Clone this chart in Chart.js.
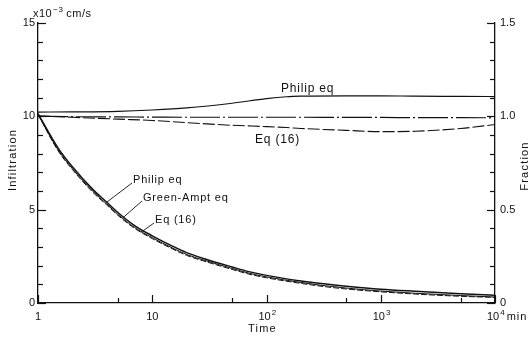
<!DOCTYPE html>
<html>
<head>
<meta charset="utf-8">
<script src="https://cdn.jsdelivr.net/npm/chart.js@4.4.1/dist/chart.umd.min.js"></script>
<style>
  html, body { margin: 0; padding: 0; background: #fff; }
  canvas { display: block; }
</style>
</head>
<body>
<canvas id="chart" width="529" height="337"></canvas>
<script>
// infiltration rate (x10^-3 cm/s) against time (min)
const times = [1, 1.5, 2, 3, 4, 5, 7, 10, 15, 20, 30, 50, 70, 100, 200, 300, 500, 1000, 2000, 5000, 10000];
const philipRate     = [10.15, 8.3, 7.3, 6.1, 5.4, 4.85, 4.15, 3.6, 3.05, 2.7, 2.33, 1.93, 1.68, 1.48, 1.18, 1.04, 0.9, 0.74, 0.63, 0.5, 0.42];
const greenAmptRate  = [10.1, 8.2, 7.2, 6.0, 5.3, 4.75, 4.05, 3.5, 2.95, 2.6, 2.25, 1.85, 1.6, 1.4, 1.1, 0.95, 0.8, 0.64, 0.52, 0.4, 0.32];
const eq16Rate       = [10.1, 8.15, 7.15, 5.95, 5.25, 4.7, 4.0, 3.45, 2.9, 2.55, 2.2, 1.8, 1.55, 1.35, 1.05, 0.9, 0.75, 0.6, 0.48, 0.36, 0.3];

// fractions on the right-hand axis
const ratioTimes = [1, 2, 5, 10, 20, 50, 100, 150, 200, 500, 1000, 2000, 5000, 10000];
const philipRatio    = [1.023, 1.024, 1.027, 1.034, 1.045, 1.07, 1.095, 1.105, 1.108, 1.11, 1.11, 1.108, 1.107, 1.106];
const greenAmptRatio = [1.0, 0.998, 0.997, 0.996, 0.995, 0.995, 0.995, 0.995, 0.995, 0.994, 0.994, 0.993, 0.993, 0.992];
const eq16Ratio      = [1.003, 0.995, 0.985, 0.978, 0.966, 0.952, 0.945, 0.94, 0.935, 0.925, 0.918, 0.92, 0.935, 0.956];

const decadeTicks = [1, 10, 100, 1000, 10000];
const halfDecadeTicks = [5, 50, 500, 5000];

const FONT = '"Liberation Sans", Arial, sans-serif';
const INK = '#111';

function toPoints(xs, ys) {
  return xs.map((x, i) => ({ x: x, y: ys[i] }));
}

// series value at time t, linear in log(t) like the drawn segments
function valueAt(xs, ys, t) {
  for (let i = 1; i < xs.length; i++) {
    if (t <= xs[i]) {
      const f = (Math.log(t) - Math.log(xs[i - 1])) / (Math.log(xs[i]) - Math.log(xs[i - 1]));
      return ys[i - 1] + f * (ys[i] - ys[i - 1]);
    }
  }
  return ys[ys.length - 1];
}

function line(ctx, x1, y1, x2, y2) {
  ctx.beginPath();
  ctx.moveTo(x1, y1);
  ctx.lineTo(x2, y2);
  ctx.stroke();
}

// "10" with a raised exponent, "10" starting at left
function powerLabel(ctx, left, base, exp) {
  ctx.font = `11px ${FONT}`;
  ctx.textAlign = 'left';
  ctx.fillText('10', left, base);
  const w = ctx.measureText('10').width;
  ctx.font = `8px ${FONT}`;
  ctx.fillText(exp, left + w + 1, base - 5);
  return left + w + 1 + ctx.measureText(exp).width;
}

const decorations = {
  id: 'decorations',
  afterDraw(chart) {
    const { ctx, chartArea: a, scales: { x, y, y2 } } = chart;
    ctx.save();
    ctx.strokeStyle = INK;
    ctx.fillStyle = INK;
    ctx.lineWidth = 1.2;

    // tick marks pointing into the plot
    for (let v = 0; v <= 15; v++) {
      const py = Math.round(y.getPixelForValue(v)) + 0.5;
      line(ctx, a.left, py, a.left + (v % 5 === 0 ? 8 : 5), py);
    }
    for (let k = 0; k <= 15; k++) {
      const py = Math.round(y2.getPixelForValue(k / 10)) + 0.5;
      line(ctx, a.right, py, a.right - (k % 5 === 0 ? 8 : 5), py);
    }
    decadeTicks.forEach(t => {
      const px = Math.round(x.getPixelForValue(t)) + 0.5;
      line(ctx, px, a.bottom, px, a.bottom - 8);
    });
    halfDecadeTicks.forEach(t => {
      const px = Math.round(x.getPixelForValue(t)) + 0.5;
      line(ctx, px, a.bottom, px, a.bottom - 5);
    });

    // time axis labels
    const base = a.bottom + 17;
    ctx.textBaseline = 'alphabetic';
    ctx.font = `11px ${FONT}`;
    ctx.textAlign = 'center';
    ctx.fillText('1', x.getPixelForValue(1), base);
    ctx.fillText('10', x.getPixelForValue(10), base);
    powerLabel(ctx, x.getPixelForValue(100) - 8, base, '2');
    powerLabel(ctx, x.getPixelForValue(1000) - 8, base, '3');
    const end = powerLabel(ctx, x.getPixelForValue(10000) - 8, base, '4');
    ctx.font = `11px ${FONT}`;
    ctx.letterSpacing = '1px';
    ctx.fillText('min', end + 2, base);

    // unit above the left axis
    ctx.letterSpacing = '0.5px';
    ctx.font = `11px ${FONT}`;
    ctx.fillText('x10', a.left - 5, a.top - 6);
    let ux = a.left - 5 + ctx.measureText('x10').width + 1;
    ctx.font = `8px ${FONT}`;
    ctx.fillText('\u22123', ux, a.top - 11);
    ux += ctx.measureText('\u22123').width + 3;
    ctx.font = `11px ${FONT}`;
    ctx.fillText('cm/s', ux, a.top - 6);

    // axis titles
    ctx.letterSpacing = '1.2px';
    ctx.textAlign = 'center';
    ctx.textBaseline = 'middle';
    ctx.font = `11px ${FONT}`;
    ctx.fillText('Time', (a.left + a.right) / 2 - 4, a.bottom + 26);
    [['Infiltration', 13, 160], ['Fraction', 525, 166]].forEach(([txt, tx, ty]) => {
      ctx.save();
      ctx.translate(tx, ty);
      ctx.rotate(-Math.PI / 2);
      ctx.fillText(txt, 0, 0);
      ctx.restore();
    });

    // labels on the fraction curves
    ctx.textAlign = 'left';
    ctx.letterSpacing = '0.8px';
    ctx.font = `12px ${FONT}`;
    ctx.fillText('Philip eq', 281, 89);
    ctx.fillText('Eq (16)', 255, 140);

    // callouts on the infiltration curves
    ctx.font = `11px ${FONT}`;
    ctx.lineWidth = 0.9;
    const callouts = [
      ['Philip eq', times, philipRate, 4, 133, 180],
      ['Green-Ampt eq', times, greenAmptRate, 5.5, 143, 198],
      ['Eq (16)', times, eq16Rate, 8, 155, 220]
    ];
    callouts.forEach(([txt, xs, ys, t, tx, ty]) => {
      const px = x.getPixelForValue(t);
      const py = y.getPixelForValue(valueAt(xs, ys, t));
      line(ctx, tx - 1, ty + 3, px, py);
      ctx.fillText(txt, tx, ty);
    });
    ctx.restore();
  }
};

const common = { borderColor: INK, pointRadius: 0, fill: false, cubicInterpolationMode: 'monotone' };

new Chart(document.getElementById('chart'), {
  type: 'line',
  data: {
    datasets: [
      { ...common, label: 'Philip eq', data: toPoints(times, philipRate), yAxisID: 'y', borderWidth: 1.5 },
      { ...common, label: 'Green-Ampt eq', data: toPoints(times, greenAmptRate), yAxisID: 'y', borderWidth: 1 },
      { ...common, label: 'Eq (16)', data: toPoints(times, eq16Rate), yAxisID: 'y', borderWidth: 1, borderDash: [6, 2] },
      { ...common, label: 'Philip eq fraction', data: toPoints(ratioTimes, philipRatio), yAxisID: 'y2', borderWidth: 1.2 },
      { ...common, label: 'Green-Ampt eq fraction', data: toPoints(ratioTimes, greenAmptRatio), yAxisID: 'y2', borderWidth: 1.2, borderDash: [30, 3, 2, 3] },
      { ...common, label: 'Eq (16) fraction', data: toPoints(ratioTimes, eq16Ratio), yAxisID: 'y2', borderWidth: 1.1, borderDash: [12, 3] }
    ]
  },
  options: {
    responsive: false,
    animation: false,
    layout: { padding: { top: 23, left: 0, right: 0, bottom: 0 } },
    plugins: { legend: { display: false }, tooltip: { enabled: false } },
    scales: {
      x: {
        type: 'logarithmic',
        min: 1,
        max: 10000,
        ticks: { display: false },
        grid: { display: false, drawTicks: false },
        border: { display: true, color: INK, width: 1.3 },
        afterFit: s => { s.height = 34; }
      },
      y: {
        position: 'left',
        min: 0,
        max: 15,
        ticks: { stepSize: 5, color: INK, padding: 3, font: { family: FONT, size: 11 } },
        grid: { display: false, drawTicks: false },
        border: { display: true, color: INK, width: 1.3 },
        afterFit: s => { s.width = 38; }
      },
      y2: {
        position: 'right',
        min: 0,
        max: 1.5,
        ticks: {
          stepSize: 0.5, color: INK, padding: 5, font: { family: FONT, size: 11 },
          callback: v => (v === 0 ? '0' : v.toFixed(1))
        },
        grid: { display: false, drawTicks: false },
        border: { display: true, color: INK, width: 1.3 },
        afterFit: s => { s.width = 34; }
      }
    }
  },
  plugins: [decorations]
});
</script>
</body>
</html>
